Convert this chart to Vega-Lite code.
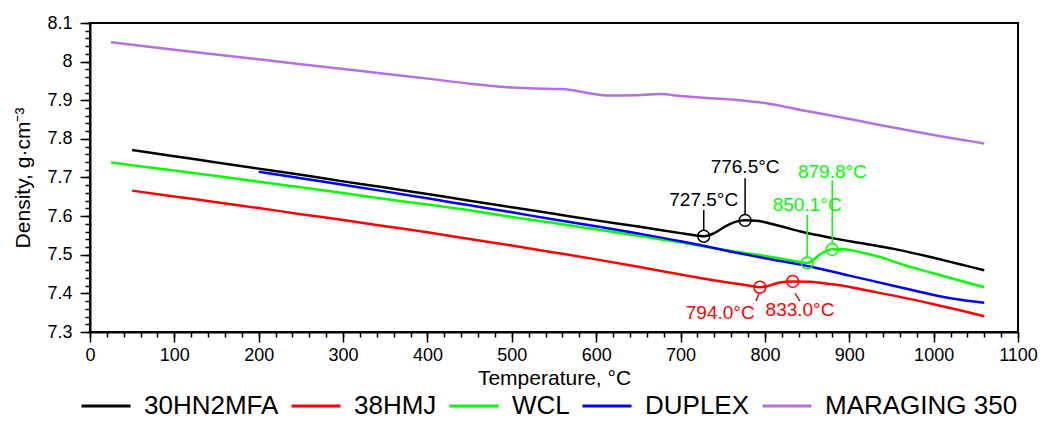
{
  "$schema": "https://vega.github.io/schema/vega-lite/v6.json",
  "width": 928,
  "height": 309,
  "autosize": {"type": "none"},
  "padding": {"left": 90, "top": 23, "right": 22, "bottom": 94},
  "background": "white",
  "config": {
    "font": "Liberation Sans",
    "view": {"stroke": "black", "strokeWidth": 2},
    "axis": {
      "grid": false,
      "domainColor": "black",
      "domainWidth": 2,
      "tickColor": "black",
      "tickWidth": 1.5,
      "labelColor": "black",
      "labelFont": "Liberation Sans",
      "labelFontSize": 18,
      "titleFont": "Liberation Sans",
      "titleFontSize": 21,
      "titleFontWeight": "normal",
      "titleColor": "black"
    },
    "legend": {
      "labelFont": "Liberation Sans",
      "labelFontSize": 26,
      "labelColor": "black",
      "labelLimit": 400
    }
  },
  "resolve": {"axis": {"x": "independent", "y": "independent"}},
  "datasets": {
    "curves": [
      {"series": "30HN2MFA", "t": 50, "d": 7.771},
      {"series": "30HN2MFA", "t": 100, "d": 7.755},
      {"series": "30HN2MFA", "t": 150, "d": 7.739},
      {"series": "30HN2MFA", "t": 200, "d": 7.723},
      {"series": "30HN2MFA", "t": 250, "d": 7.707},
      {"series": "30HN2MFA", "t": 300, "d": 7.690},
      {"series": "30HN2MFA", "t": 350, "d": 7.674},
      {"series": "30HN2MFA", "t": 400, "d": 7.657},
      {"series": "30HN2MFA", "t": 450, "d": 7.640},
      {"series": "30HN2MFA", "t": 500, "d": 7.623},
      {"series": "30HN2MFA", "t": 550, "d": 7.606},
      {"series": "30HN2MFA", "t": 600, "d": 7.589},
      {"series": "30HN2MFA", "t": 650, "d": 7.573},
      {"series": "30HN2MFA", "t": 700, "d": 7.556},
      {"series": "30HN2MFA", "t": 715, "d": 7.551},
      {"series": "30HN2MFA", "t": 727.5, "d": 7.548},
      {"series": "30HN2MFA", "t": 740, "d": 7.556},
      {"series": "30HN2MFA", "t": 752, "d": 7.572},
      {"series": "30HN2MFA", "t": 765, "d": 7.585},
      {"series": "30HN2MFA", "t": 776.5, "d": 7.589},
      {"series": "30HN2MFA", "t": 790, "d": 7.588},
      {"series": "30HN2MFA", "t": 800, "d": 7.584},
      {"series": "30HN2MFA", "t": 820, "d": 7.573},
      {"series": "30HN2MFA", "t": 841, "d": 7.561},
      {"series": "30HN2MFA", "t": 860, "d": 7.552},
      {"series": "30HN2MFA", "t": 880, "d": 7.543},
      {"series": "30HN2MFA", "t": 920, "d": 7.528},
      {"series": "30HN2MFA", "t": 960, "d": 7.512},
      {"series": "30HN2MFA", "t": 1000, "d": 7.492},
      {"series": "30HN2MFA", "t": 1030, "d": 7.476},
      {"series": "30HN2MFA", "t": 1060, "d": 7.460},

      {"series": "38HMJ", "t": 50, "d": 7.666},
      {"series": "38HMJ", "t": 100, "d": 7.651},
      {"series": "38HMJ", "t": 150, "d": 7.636},
      {"series": "38HMJ", "t": 200, "d": 7.621},
      {"series": "38HMJ", "t": 250, "d": 7.605},
      {"series": "38HMJ", "t": 300, "d": 7.590},
      {"series": "38HMJ", "t": 350, "d": 7.574},
      {"series": "38HMJ", "t": 400, "d": 7.558},
      {"series": "38HMJ", "t": 450, "d": 7.541},
      {"series": "38HMJ", "t": 500, "d": 7.524},
      {"series": "38HMJ", "t": 550, "d": 7.506},
      {"series": "38HMJ", "t": 600, "d": 7.488},
      {"series": "38HMJ", "t": 650, "d": 7.469},
      {"series": "38HMJ", "t": 700, "d": 7.449},
      {"series": "38HMJ", "t": 723, "d": 7.440},
      {"series": "38HMJ", "t": 760, "d": 7.427},
      {"series": "38HMJ", "t": 782, "d": 7.420},
      {"series": "38HMJ", "t": 794, "d": 7.416},
      {"series": "38HMJ", "t": 805, "d": 7.420},
      {"series": "38HMJ", "t": 815, "d": 7.427},
      {"series": "38HMJ", "t": 825, "d": 7.430},
      {"series": "38HMJ", "t": 833, "d": 7.431},
      {"series": "38HMJ", "t": 853, "d": 7.430},
      {"series": "38HMJ", "t": 870, "d": 7.426},
      {"series": "38HMJ", "t": 889, "d": 7.421},
      {"series": "38HMJ", "t": 920, "d": 7.408},
      {"series": "38HMJ", "t": 960, "d": 7.391},
      {"series": "38HMJ", "t": 1000, "d": 7.372},
      {"series": "38HMJ", "t": 1030, "d": 7.357},
      {"series": "38HMJ", "t": 1060, "d": 7.341},

      {"series": "WCL", "t": 25, "d": 7.739},
      {"series": "WCL", "t": 50, "d": 7.732},
      {"series": "WCL", "t": 100, "d": 7.718},
      {"series": "WCL", "t": 150, "d": 7.704},
      {"series": "WCL", "t": 200, "d": 7.689},
      {"series": "WCL", "t": 250, "d": 7.675},
      {"series": "WCL", "t": 300, "d": 7.660},
      {"series": "WCL", "t": 344, "d": 7.646},
      {"series": "WCL", "t": 400, "d": 7.630},
      {"series": "WCL", "t": 450, "d": 7.615},
      {"series": "WCL", "t": 500, "d": 7.598},
      {"series": "WCL", "t": 550, "d": 7.582},
      {"series": "WCL", "t": 605, "d": 7.564},
      {"series": "WCL", "t": 650, "d": 7.549},
      {"series": "WCL", "t": 700, "d": 7.532},
      {"series": "WCL", "t": 723, "d": 7.523},
      {"series": "WCL", "t": 760, "d": 7.510},
      {"series": "WCL", "t": 800, "d": 7.497},
      {"series": "WCL", "t": 830, "d": 7.486},
      {"series": "WCL", "t": 850.1, "d": 7.479},
      {"series": "WCL", "t": 858, "d": 7.488},
      {"series": "WCL", "t": 866, "d": 7.502},
      {"series": "WCL", "t": 873, "d": 7.510},
      {"series": "WCL", "t": 879.8, "d": 7.514},
      {"series": "WCL", "t": 893, "d": 7.514},
      {"series": "WCL", "t": 920, "d": 7.503},
      {"series": "WCL", "t": 940, "d": 7.492},
      {"series": "WCL", "t": 960, "d": 7.477},
      {"series": "WCL", "t": 1000, "d": 7.452},
      {"series": "WCL", "t": 1030, "d": 7.434},
      {"series": "WCL", "t": 1060, "d": 7.416},

      {"series": "DUPLEX", "t": 200, "d": 7.715},
      {"series": "DUPLEX", "t": 250, "d": 7.698},
      {"series": "DUPLEX", "t": 300, "d": 7.681},
      {"series": "DUPLEX", "t": 344, "d": 7.666},
      {"series": "DUPLEX", "t": 400, "d": 7.646},
      {"series": "DUPLEX", "t": 450, "d": 7.628},
      {"series": "DUPLEX", "t": 500, "d": 7.610},
      {"series": "DUPLEX", "t": 550, "d": 7.591},
      {"series": "DUPLEX", "t": 605, "d": 7.572},
      {"series": "DUPLEX", "t": 650, "d": 7.555},
      {"series": "DUPLEX", "t": 700, "d": 7.535},
      {"series": "DUPLEX", "t": 723, "d": 7.525},
      {"series": "DUPLEX", "t": 760, "d": 7.508},
      {"series": "DUPLEX", "t": 800, "d": 7.491},
      {"series": "DUPLEX", "t": 850, "d": 7.471},
      {"series": "DUPLEX", "t": 900, "d": 7.446},
      {"series": "DUPLEX", "t": 930, "d": 7.431},
      {"series": "DUPLEX", "t": 960, "d": 7.416},
      {"series": "DUPLEX", "t": 1000, "d": 7.396},
      {"series": "DUPLEX", "t": 1030, "d": 7.384},
      {"series": "DUPLEX", "t": 1060, "d": 7.376},

      {"series": "MARAGING 350", "t": 25, "d": 8.050},
      {"series": "MARAGING 350", "t": 100, "d": 8.031},
      {"series": "MARAGING 350", "t": 200, "d": 8.006},
      {"series": "MARAGING 350", "t": 300, "d": 7.981},
      {"series": "MARAGING 350", "t": 344, "d": 7.970},
      {"series": "MARAGING 350", "t": 400, "d": 7.956},
      {"series": "MARAGING 350", "t": 450, "d": 7.943},
      {"series": "MARAGING 350", "t": 486, "d": 7.935},
      {"series": "MARAGING 350", "t": 520, "d": 7.931},
      {"series": "MARAGING 350", "t": 560, "d": 7.929},
      {"series": "MARAGING 350", "t": 590, "d": 7.919},
      {"series": "MARAGING 350", "t": 616, "d": 7.912},
      {"series": "MARAGING 350", "t": 645, "d": 7.913},
      {"series": "MARAGING 350", "t": 676, "d": 7.916},
      {"series": "MARAGING 350", "t": 700, "d": 7.911},
      {"series": "MARAGING 350", "t": 723, "d": 7.907},
      {"series": "MARAGING 350", "t": 770, "d": 7.900},
      {"series": "MARAGING 350", "t": 802, "d": 7.892},
      {"series": "MARAGING 350", "t": 842, "d": 7.875},
      {"series": "MARAGING 350", "t": 880, "d": 7.860},
      {"series": "MARAGING 350", "t": 920, "d": 7.843},
      {"series": "MARAGING 350", "t": 960, "d": 7.826},
      {"series": "MARAGING 350", "t": 1000, "d": 7.810},
      {"series": "MARAGING 350", "t": 1030, "d": 7.799},
      {"series": "MARAGING 350", "t": 1060, "d": 7.788}
    ],
    "points": [
      {"series": "30HN2MFA", "t": 727.5, "d": 7.548},
      {"series": "30HN2MFA", "t": 776.5, "d": 7.589},
      {"series": "WCL", "t": 850.1, "d": 7.479},
      {"series": "WCL", "t": 879.8, "d": 7.514},
      {"series": "38HMJ", "t": 794.0, "d": 7.416},
      {"series": "38HMJ", "t": 833.0, "d": 7.431}
    ],
    "leaders": [
      {"series": "30HN2MFA", "t": 727.5, "d": 7.564, "t2": 727.5, "d2": 7.616},
      {"series": "30HN2MFA", "t": 776.5, "d": 7.605, "t2": 776.5, "d2": 7.698},
      {"series": "WCL", "t": 850.1, "d": 7.495, "t2": 850.1, "d2": 7.603},
      {"series": "WCL", "t": 879.8, "d": 7.530, "t2": 879.8, "d2": 7.693},
      {"series": "38HMJ", "t": 793.0, "d": 7.4005, "t2": 789.5, "d2": 7.380},
      {"series": "38HMJ", "t": 835.7, "d": 7.400, "t2": 841.6, "d2": 7.380}
    ],
    "labels": [
      {"series": "30HN2MFA", "t": 727.5, "d": 7.641, "label": "727.5°C"},
      {"series": "30HN2MFA", "t": 776.5, "d": 7.727, "label": "776.5°C"},
      {"series": "WCL", "t": 850.1, "d": 7.628, "label": "850.1°C"},
      {"series": "WCL", "t": 880.0, "d": 7.715, "label": "879.8°C"},
      {"series": "38HMJ", "t": 747.0, "d": 7.350, "label": "794.0°C"},
      {"series": "38HMJ", "t": 841.6, "d": 7.356, "label": "833.0°C"}
    ]
  },
  "layer": [
    {
      "data": {"name": "curves"},
      "mark": {"type": "line", "strokeWidth": 2.5, "interpolate": "monotone"},
      "encoding": {
        "x": {
          "field": "t", "type": "quantitative",
          "scale": {"domain": [0, 1100], "nice": false, "zero": false},
          "axis": {
            "orient": "bottom",
            "title": "Temperature, °C",
            "titlePadding": 3,
            "values": [0,100,200,300,400,500,600,700,800,900,1000,1100],
            "format": "d",
            "labelOverlap": false,
            "labelFlush": false,
            "tickSize": 10,
            "labelPadding": 4
          }
        },
        "y": {
          "field": "d", "type": "quantitative",
          "scale": {"domain": [7.3, 8.1], "nice": false, "zero": false},
          "axis": {
            "orient": "left",
            "title": "Density, g·cm⁻³",
            "titlePadding": 13,
            "values": [7.3,7.4,7.5,7.6,7.7,7.8,7.9,8,8.1],
            "format": ".1~f",
            "labelOverlap": false,
            "labelFlush": false,
            "tickSize": 10,
            "labelPadding": 8
          }
        },
        "color": {
          "field": "series", "type": "nominal",
          "scale": {
            "domain": ["30HN2MFA", "38HMJ", "WCL", "DUPLEX", "MARAGING 350"],
            "range": ["#000000", "#ff0000", "#00ff00", "#0000ff", "#b56fe0"]
          },
          "legend": {
            "orient": "none",
            "legendX": -10,
            "legendY": 357,
            "direction": "horizontal",
            "columns": 5,
            "title": null,
            "symbolType": "stroke",
            "symbolSize": 2400,
            "symbolStrokeWidth": 3,
            "labelOffset": 12,
            "columnPadding": 6
          }
        }
      }
    },
    {
      "data": {"name": "leaders"},
      "mark": {"type": "rule", "strokeWidth": 1.5},
      "encoding": {
        "x": {
          "field": "t", "type": "quantitative",
          "axis": {
            "orient": "bottom",
            "title": null, "labels": false, "domain": false, "tickSize": 5,
            "values": [0,20,40,60,80,100,120,140,160,180,200,220,240,260,280,300,320,340,360,380,400,420,440,460,480,500,520,540,560,580,600,620,640,660,680,700,720,740,760,780,800,820,840,860,880,900,920,940,960,980,1000,1020,1040,1060,1080,1100]
          }
        },
        "y": {
          "field": "d", "type": "quantitative",
          "axis": {
            "orient": "left",
            "title": null, "labels": false, "domain": false, "tickSize": 5,
            "values": [7.3,7.32,7.34,7.36,7.38,7.4,7.42,7.44,7.46,7.48,7.5,7.52,7.54,7.56,7.58,7.6,7.62,7.64,7.66,7.68,7.7,7.72,7.74,7.76,7.78,7.8,7.82,7.84,7.86,7.88,7.9,7.92,7.94,7.96,7.98,8,8.02,8.04,8.06,8.08,8.1]
          }
        },
        "x2": {"field": "t2"},
        "y2": {"field": "d2"},
        "color": {"field": "series", "type": "nominal", "legend": null}
      }
    },
    {
      "data": {"name": "points"},
      "mark": {"type": "point", "shape": "circle", "filled": false, "size": 140, "strokeWidth": 1.5, "opacity": 1},
      "encoding": {
        "x": {"field": "t", "type": "quantitative", "axis": null},
        "y": {"field": "d", "type": "quantitative", "axis": null},
        "color": {"field": "series", "type": "nominal", "legend": null}
      }
    },
    {
      "data": {"name": "labels"},
      "mark": {"type": "text", "fontSize": 19, "align": "center", "baseline": "middle", "font": "Liberation Sans"},
      "encoding": {
        "x": {"field": "t", "type": "quantitative", "axis": null},
        "y": {"field": "d", "type": "quantitative", "axis": null},
        "text": {"field": "label"},
        "color": {"field": "series", "type": "nominal", "legend": null}
      }
    }
  ]
}
